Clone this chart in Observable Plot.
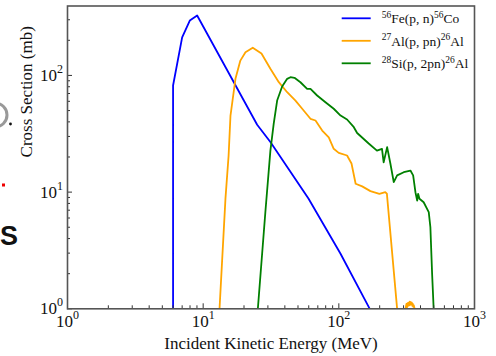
<!DOCTYPE html>
<html><head><meta charset="utf-8">
<script src="https://cdn.jsdelivr.net/npm/d3@7"></script>
<script src="https://cdn.jsdelivr.net/npm/@observablehq/plot@0.6"></script>
<style>
html,body{margin:0;padding:0;background:#fff;}
#wrap{position:relative;width:496px;height:356px;overflow:hidden;}
</style></head><body><div id="wrap"></div>
<script>
// ---- data ----
const feEnergy = [6.0, 6.0, 7.0, 7.97, 9.03, 25.0, 31.3, 59.7, 102.7, 169, 200];
const feSigma  = [0.5, 82, 212, 295, 326, 37.8, 26.9, 8.81, 2.98, 1.0, 0.75];

const alEnergy = [12.9, 13.2, 14.6, 15.4, 15.9, 17.3, 18.8, 20.5, 23.2, 26.9, 31.3, 36.1, 41.6, 47.9, 53.7, 61.8, 67.3, 75.4, 84.3, 91.7, 99.8, 115, 124, 133, 148.6, 171, 199, 220, 226, 269, 290, 305, 309, 312, 315, 318, 321, 324, 327, 330, 333, 336, 339, 342, 345, 348, 351, 354, 357, 362, 368, 380];
const alSigma  = [0.7, 1.0, 8.8, 20.6, 45.3, 93.5, 134, 158, 173, 154, 114, 87.5, 71.8, 60.9, 51.8, 42.5, 41.1, 33.7, 29.5, 23.5, 21.7, 20.6, 17.6, 11.8, 11.2, 10.2, 9.67, 9.98, 9.7, 1.0, 0.3, 0.8, 0.98, 1.04, 1.1, 1.03, 1.12, 1.06, 1.13, 1.07, 1.15, 1.08, 1.14, 1.09, 1.13, 1.06, 1.1, 1.04, 1.07, 1.0, 0.9, 0.3];

const siEnergy = [25.0, 25.3, 28.8, 31.3, 33.1, 35.1, 38.2, 41.6, 44.0, 47.1, 52.1, 58.4, 61.8, 69.2, 79.7, 91.7, 103, 115, 129, 136.4, 166, 191, 208, 214, 227, 240, 254, 269, 301, 337, 353, 367, 378, 384, 393, 422, 460, 473, 487, 500, 510];
const siSigma  = [0.8, 1.0, 6.96, 22.7, 38.5, 60.9, 80.4, 93.5, 96.5, 95.4, 87.4, 76.7, 76.7, 67.3, 58.9, 51.8, 45.3, 41.9, 36.0, 32.1, 26.1, 22.7, 23.5, 18.0, 24.3, 17.5, 12.2, 13.9, 14.8, 15.3, 13.9, 9.98, 8.47, 9.67, 8.77, 8.19, 6.73, 5.0, 2.0, 1.0, 0.7];

const seriesNames  = ["Fe", "Al", "Si"];
const seriesColors = ["#0000ff", "#ffa500", "#008000"];
const legendLabels = [
  [["56", true], ["Fe(p, n)", false], ["56", true], ["Co", false]],
  [["27", true], ["Al(p, pn)", false], ["26", true], ["Al", false]],
  [["28", true], ["Si(p, 2pn)", false], ["26", true], ["Al", false]]
];

const xMajor = [1, 10, 100, 1000];
const xMinor = [2,3,4,5,6,7,8,9,20,30,40,50,60,70,80,90,200,300,400,500,600,700,800,900];
const yMajor = [1, 10, 100];
const yMinor = [2,3,4,5,6,7,8,9,20,30,40,50,60,70,80,90,200,300];
const xLabel = "Incident Kinetic Energy (MeV)";
const yLabel = "Cross Section (mb)";

// ---- build table ----
const rows = [];
[[feEnergy, feSigma], [alEnergy, alSigma], [siEnergy, siSigma]].forEach(([E, S], i) => {
  E.forEach((e, j) => rows.push({series: seriesNames[i], E: e, S: S[j]}));
});

const W = 496, H = 356;
const mL = 67, mR = 22, mT = 5.5, mB = 47.7;
const innerW = W - mL - mR, innerH = H - mT - mB;
const serif = "'Liberation Serif', 'Times New Roman', serif";

const plot = Plot.plot({
  width: W, height: H,
  marginLeft: mL, marginRight: mR, marginTop: mT, marginBottom: mB,
  style: {fontFamily: serif, background: "#fff", overflow: "visible"},
  x: {type: "log", domain: [1, 1000], axis: null},
  y: {type: "log", domain: [1, Math.pow(10, 2.595)], axis: null},
  color: {domain: seriesNames, range: seriesColors},
  marks: [
    Plot.line(rows, {x: "E", y: "S", z: "series", stroke: "series", strokeWidth: 1.8, clip: true, curve: "linear"}),
    // inward ticks
    Plot.ruleX(xMajor, {x: d => d, insetTop: innerH - 5, stroke: "#333", strokeWidth: 1}),
    Plot.ruleX(xMinor, {x: d => d, insetTop: innerH - 3, stroke: "#333", strokeWidth: 1}),
    Plot.ruleY(yMajor, {y: d => d, insetRight: innerW - 5, stroke: "#333", strokeWidth: 1}),
    Plot.ruleY(yMinor, {y: d => d, insetRight: innerW - 3, stroke: "#333", strokeWidth: 1}),
    Plot.frame({stroke: "#555", strokeWidth: 1.6}),
    // tick labels (exponent text; base "10" added below)
    Plot.text(xMajor, {x: d => d, frameAnchor: "bottom", lineAnchor: "bottom", dy: 18.5,
      text: d => String(Math.round(Math.log10(d))), fontSize: 17, fill: "#111"}),
    Plot.text(yMajor, {y: d => d, frameAnchor: "left", lineAnchor: "bottom", textAnchor: "end", dx: -4.5, dy: 5.5,
      text: d => String(Math.round(Math.log10(d))), fontSize: 17, fill: "#111"}),
    // axis titles
    Plot.text([xLabel], {frameAnchor: "bottom", lineAnchor: "bottom", dy: 40, text: d => d, fontSize: 17, fill: "#111"}),
    Plot.text([yLabel], {frameAnchor: "left", lineAnchor: "bottom", rotate: -90, dx: -36, text: d => d, fontSize: 17, fill: "#111"})
  ]
});

document.getElementById("wrap").appendChild(plot);
const svg = d3.select(plot);

// superscript exponents on tick labels (first two text marks)
const textGroups = svg.selectAll('g[aria-label="text"]').nodes();
[textGroups[0], textGroups[1]].forEach(g => {
  d3.select(g).selectAll("text").each(function () {
    const t = d3.select(this);
    const e = t.text();
    t.text("10");
    t.append("tspan").attr("font-size", 12).attr("dy", -8).text(e);
  });
});

// legend
const lg = svg.append("g").attr("font-family", serif).attr("font-size", 13.5).attr("fill", "#111").attr("text-anchor", "start");
legendLabels.forEach((parts, i) => {
  const y = 18.3 + 22.5 * i;
  lg.append("line").attr("x1", 341.7).attr("x2", 370.7).attr("y1", y).attr("y2", y)
    .attr("stroke", seriesColors[i]).attr("stroke-width", 1.8);
  const t = lg.append("text").attr("x", 381.7).attr("y", y + 4.8).attr("text-anchor", "start");
  parts.forEach(([s, sup], k) => {
    const ts = t.append("tspan").text(s);
    if (sup) ts.attr("font-size", 9.5).attr("dy", -5.5);
    else if (k > 0) ts.attr("dy", 5.5);
  });
});

// fragments of the neighbouring figure visible at the left edge
const frag = svg.append("g");
frag.append("circle").attr("cx", -5).attr("cy", 115).attr("r", 12).attr("fill", "none").attr("stroke", "#999").attr("stroke-width", 3);
frag.append("circle").attr("cx", 10.5).attr("cy", 124).attr("r", 1.4).attr("fill", "#111");
frag.append("rect").attr("x", 2).attr("y", 183.5).attr("width", 3).attr("height", 3).attr("fill", "#e00");
frag.append("text").attr("x", 18).attr("y", 245).attr("text-anchor", "end")
  .attr("font-family", "'Liberation Sans', Arial, sans-serif").attr("font-weight", "bold").attr("font-size", 27).attr("fill", "#111").text("S");
</script></body></html>
